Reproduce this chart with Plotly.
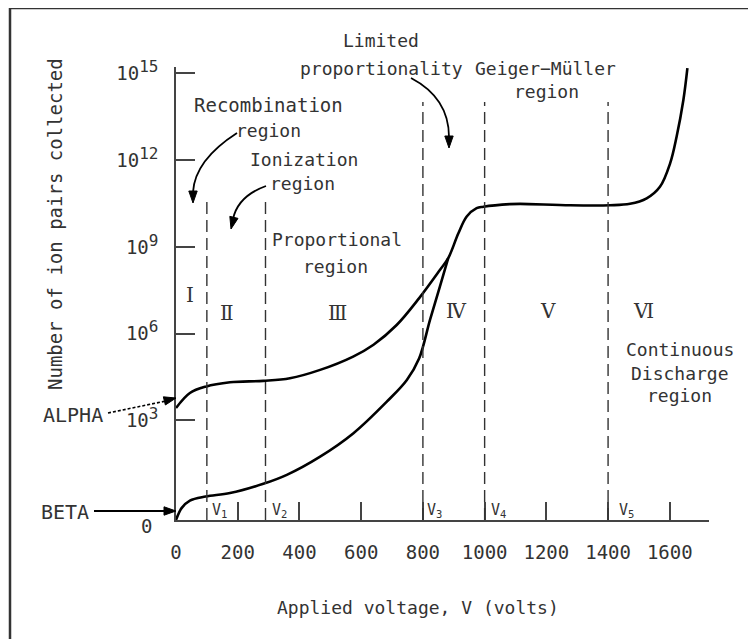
import math
import plotly.graph_objects as go

# ---------------- data ----------------
# applied voltage (V) and log10(number of ion pairs collected)
alpha_v = [0, 45, 96, 175, 283, 369, 467, 574, 640, 715, 788, 855, 882, 915, 942, 974,
           996, 1082, 1115, 1277, 1406, 1471, 1525, 1568, 1601, 1622, 1644, 1657]
alpha_exp = [3.43, 3.95, 4.17, 4.32, 4.37, 4.46, 4.75, 5.21, 5.62, 6.30, 7.23, 8.20, 8.61, 9.47,
             10.05, 10.34, 10.39, 10.48, 10.49, 10.44, 10.44, 10.49, 10.68, 11.08, 11.89, 12.81, 14.08, 15.18]

beta_v = [0, 18, 45, 96, 175, 283, 359, 467, 575, 683, 748, 788, 823, 855, 882]
beta_exp = [-0.44, -0.03, 0.23, 0.37, 0.49, 0.81, 1.12, 1.75, 2.56, 3.65, 4.40, 5.15, 6.48, 7.63, 8.61]

boundary_v = [100, 290, 800, 1000, 1400]
boundary_names = ["V<sub>1</sub>", "V<sub>2</sub>", "V<sub>3</sub>", "V<sub>4</sub>", "V<sub>5</sub>"]

x_tick_vals = [0, 200, 400, 600, 800, 1000, 1200, 1400, 1600]
x_tick_text = ["0", "200", "400", "600", "800", "1000", "1200", "1400", "1600"]
y_tick_exps = [3, 6, 9, 12, 15]

region_numerals = ["Ⅰ", "Ⅱ", "Ⅲ", "Ⅳ", "Ⅴ", "Ⅵ"]

# ---------------- layout helpers ----------------
OX, OY = 8, 8                       # page body margin
W, H = 756 - OX, 639 - OY
L, R, T, B = 176, 709, 67, 520      # plot area, page pixels
X_MAX = 1727
Y_RANGE = [-0.44, 15.22]
FONT = "DejaVu Sans Mono"
TXT = "#333333"
AX = "#444444"


def px(p):
    return (p - L) / (R - L)


def py(p):
    return (B - p) / (B - T)


fig = go.Figure()

fig.add_trace(go.Scatter(x=alpha_v, y=[10 ** e for e in alpha_exp], mode="lines",
                         line=dict(color="black", width=2.6, shape="spline", smoothing=1.0),
                         name="ALPHA", showlegend=False, hoverinfo="skip"))
fig.add_trace(go.Scatter(x=beta_v, y=[10 ** e for e in beta_exp], mode="lines",
                         line=dict(color="black", width=2.6, shape="spline", smoothing=1.0),
                         name="BETA", showlegend=False, hoverinfo="skip"))

shapes = []
# dashed region boundaries
tops = [py(196), py(196), py(102), py(102), py(102)]
for v, top in zip(boundary_v, tops):
    shapes.append(dict(type="line", xref="x", yref="paper", x0=v, x1=v, y0=0, y1=top,
                       line=dict(color="#333", width=1.4, dash="12px,6px")))

# figure frame (top and left edges)
shapes.append(dict(type="line", xref="paper", yref="paper", x0=px(10), x1=px(770), y0=py(8), y1=py(8),
                   line=dict(color="#333", width=2.5)))
shapes.append(dict(type="line", xref="paper", yref="paper", x0=px(10), x1=px(10), y0=py(8), y1=py(660),
                   line=dict(color="#333", width=2.5)))


def qpath(p0, c, p1):
    return "M {},{} Q {},{} {},{}".format(px(p0[0]), py(p0[1]), px(c[0]), py(c[1]), px(p1[0]), py(p1[1]))


def arrowhead(tip, frm, length=12, half=4.2):
    dx, dy = tip[0] - frm[0], tip[1] - frm[1]
    n = math.hypot(dx, dy)
    ux, uy = dx / n, dy / n
    bx, by = tip[0] - ux * length, tip[1] - uy * length
    p1 = (bx - uy * half, by + ux * half)
    p2 = (bx + uy * half, by - ux * half)
    path = "M {},{} L {},{} L {},{} Z".format(px(tip[0]), py(tip[1]), px(p1[0]), py(p1[1]),
                                               px(p2[0]), py(p2[1]))
    return dict(type="path", xref="paper", yref="paper", path=path,
                fillcolor="black", line=dict(color="black", width=1))


pen = dict(color="black", width=1.8)
# curved callout arrows
shapes.append(dict(type="path", xref="paper", yref="paper",
                   path=qpath((237, 133), (195, 160), (193, 192)), line=pen))
shapes.append(arrowhead((193, 203), (193, 190)))
shapes.append(dict(type="path", xref="paper", yref="paper",
                   path=qpath((266, 186), (238, 196), (233, 219)), line=pen))
shapes.append(arrowhead((231, 229), (234, 217)))
shapes.append(dict(type="path", xref="paper", yref="paper",
                   path=qpath((411, 78), (449, 98), (449, 137)), line=pen))
shapes.append(arrowhead((449, 148), (449, 135)))
# ALPHA pointer (dotted)
shapes.append(dict(type="line", xref="paper", yref="paper", x0=px(108), y0=py(413), x1=px(166), y1=py(401),
                   line=dict(color="black", width=1.6, dash="3px,2px")))
shapes.append(arrowhead((176, 398), (164, 401)))
# BETA pointer
shapes.append(dict(type="line", xref="paper", yref="paper", x0=px(94), y0=py(511), x1=px(166), y1=py(511),
                   line=dict(color="black", width=2.0)))
shapes.append(arrowhead((176, 511), (164, 511)))
fig.update_layout(shapes=shapes)

ann = []


def text(t, cx, cy, size=18, family=FONT, **kw):
    ann.append(dict(text=t, x=px(cx), y=py(cy), xref="paper", yref="paper", showarrow=False,
                    xanchor="center", yanchor="middle", font=dict(family=family, size=size, color=TXT), **kw))


text("Limited", 381, 41)
text("proportionality", 381, 68)
text("Geiger−Müller", 545, 68)
text("region", 546, 92)
text("Recombination", 268, 105, size=19)
text("region", 268, 130)
text("Ionization", 304, 159)
text("region", 302, 183)
text("Proportional", 337, 239)
text("region", 335, 266)
text("Continuous", 680, 349)
text("Discharge", 680, 373)
text("region", 679, 396)

numeral_pos = [(190, 295), (227, 313), (337, 313), (456, 311), (548, 311), (643, 311)]
for t, (cx, cy) in zip(region_numerals, numeral_pos):
    text(t, cx, cy, size=20, family="DejaVu Serif")

v_label_x = [219, 279, 434, 498, 626]
for t, cx in zip(boundary_names, v_label_x):
    text(t, cx, 510, size=15)

text("ALPHA", 73, 415, size=20)
text("BETA", 65, 512, size=20)
text("0", 146, 526, size=19)

text("Number of ion pairs collected", 55, 224, size=19, textangle=-90)
text("Applied voltage, V (volts)", 418, 607)

fig.update_layout(annotations=ann)

fig.update_xaxes(range=[0, X_MAX], showline=True, linecolor=AX, linewidth=1.5,
                 ticks="inside", ticklen=18, tickwidth=1.5, tickcolor=AX,
                 tickvals=x_tick_vals, ticktext=x_tick_text, ticklabelstandoff=14,
                 tickfont=dict(family=FONT, size=19, color=TXT),
                 showgrid=False, zeroline=False)
fig.update_yaxes(type="log", range=Y_RANGE, showline=True, linecolor=AX, linewidth=1.5,
                 ticks="inside", ticklen=19, tickwidth=1.5, tickcolor=AX,
                 tickvals=[10 ** e for e in y_tick_exps],
                 ticktext=["10<sup><span style='font-size:16px'>{}</span></sup>".format(e)
                           for e in y_tick_exps],
                 ticklabelstandoff=12,
                 tickfont=dict(family=FONT, size=19, color=TXT),
                 showgrid=False, zeroline=False)

fig.update_layout(width=W, height=H,
                  margin=dict(l=L - OX, r=756 - R, t=T - OY, b=639 - B),
                  paper_bgcolor="white", plot_bgcolor="white", showlegend=False)

fig.write_html("out.html")
